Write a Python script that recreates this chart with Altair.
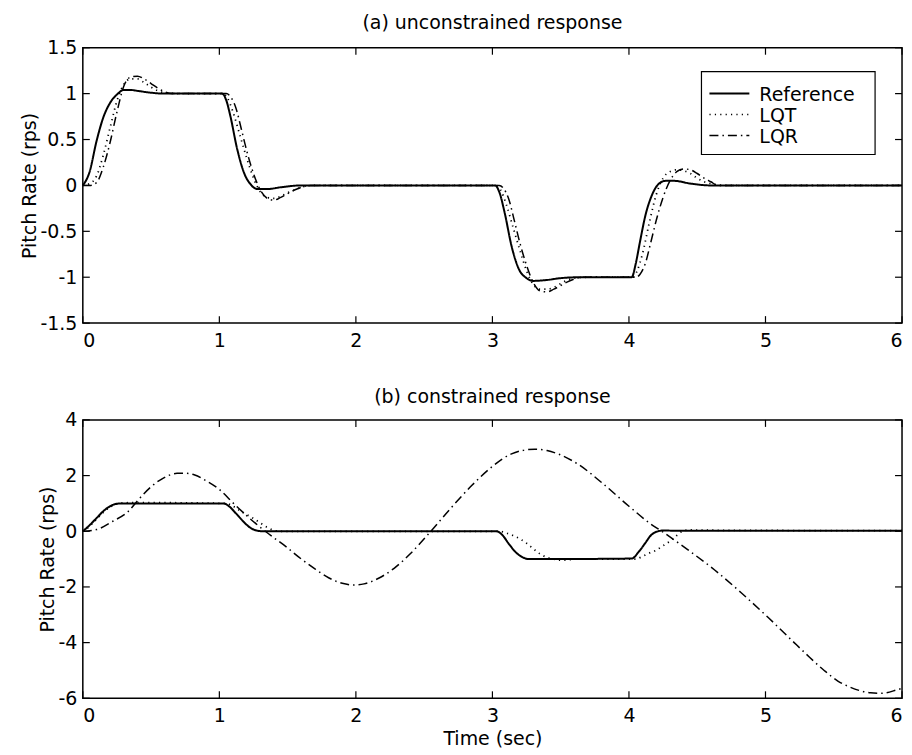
import altair as alt
import pandas as pd

# ---- (a) unconstrained response ----
t_ref_a = [0, 0.05, 0.1, 0.15, 0.2, 0.25, 0.3, 0.35, 0.4, 0.5, 0.6,
           1.02, 1.05, 1.08, 1.13, 1.18, 1.23, 1.28, 1.35, 1.45, 1.6,
           3.02, 3.05, 3.09, 3.14, 3.19, 3.25, 3.3, 3.4, 3.5, 3.65,
           4.02, 4.05, 4.08, 4.12, 4.17, 4.22, 4.27, 4.33, 4.45, 4.6, 6.0]
q_ref_a = [0, 0.15, 0.48, 0.74, 0.9, 0.99, 1.04, 1.04, 1.03, 1.01, 1.0,
           1.0, 0.93, 0.76, 0.4, 0.14, 0.01, -0.04, -0.04, -0.02, 0.0,
           0.0, -0.07, -0.3, -0.66, -0.9, -1.01, -1.04, -1.03, -1.01, -1.0,
           -1.0, -0.85, -0.62, -0.33, -0.1, 0.02, 0.05, 0.05, 0.02, 0.0, 0.0]

t_lqt_a = [0, 0.05, 0.1, 0.15, 0.2, 0.25, 0.3, 0.35, 0.4, 0.45, 0.5, 0.55, 0.6, 0.7,
           1.03, 1.06, 1.1, 1.15, 1.2, 1.25, 1.3, 1.35, 1.4, 1.45, 1.5, 1.55, 1.6, 1.7,
           3.03, 3.06, 3.1, 3.15, 3.2, 3.25, 3.3, 3.35, 3.4, 3.45, 3.5, 3.55, 3.6, 3.7,
           4.03, 4.06, 4.1, 4.15, 4.2, 4.25, 4.3, 4.35, 4.4, 4.45, 4.5, 4.55, 4.6, 4.7, 6.0]
q_lqt_a = [0, 0.02, 0.1, 0.33, 0.63, 0.92, 1.1, 1.16, 1.16, 1.12, 1.07, 1.03, 1.01, 1.0,
           1.0, 0.95, 0.8, 0.55, 0.3, 0.08, -0.07, -0.13, -0.14, -0.12, -0.08, -0.05, -0.02, 0.0,
           0.0, -0.05, -0.2, -0.45, -0.7, -0.93, -1.08, -1.13, -1.13, -1.11, -1.07, -1.03, -1.01, -1.0,
           -1.0, -0.93, -0.74, -0.4, -0.1, 0.08, 0.15, 0.17, 0.16, 0.13, 0.08, 0.04, 0.02, 0.0, 0.0]

t_lqr_a = [0, 0.05, 0.1, 0.15, 0.2, 0.25, 0.3, 0.35, 0.4, 0.45, 0.5, 0.55, 0.6, 0.65,
           1.05, 1.08, 1.12, 1.16, 1.2, 1.25, 1.3, 1.35, 1.4, 1.45, 1.5, 1.55, 1.6, 1.65,
           3.05, 3.08, 3.12, 3.16, 3.2, 3.25, 3.3, 3.35, 3.4, 3.45, 3.5, 3.55, 3.6, 3.65,
           4.05, 4.08, 4.12, 4.16, 4.2, 4.25, 4.3, 4.35, 4.4, 4.45, 4.5, 4.55, 4.6, 4.65, 6.0]
q_lqr_a = [0, 0.0, 0.03, 0.2, 0.47, 0.8, 1.08, 1.18, 1.19, 1.16, 1.11, 1.06, 1.02, 1.0,
           1.0, 0.97, 0.85, 0.62, 0.38, 0.13, -0.05, -0.14, -0.16, -0.13, -0.09, -0.05, -0.02, 0.0,
           0.0, -0.03, -0.15, -0.38, -0.62, -0.87, -1.06, -1.15, -1.16, -1.13, -1.09, -1.05, -1.02, -1.0,
           -1.0, -0.97, -0.85, -0.62, -0.38, -0.13, 0.05, 0.15, 0.18, 0.17, 0.13, 0.08, 0.04, 0.0, 0.0]

# ---- (b) constrained response ----
t_ref_b = [0, 0.05, 0.1, 0.15, 0.2, 0.25, 0.3,
           1.03, 1.07, 1.12, 1.17, 1.22, 1.27, 1.32,
           3.03, 3.07, 3.12, 3.17, 3.22, 3.27, 3.32,
           4.02, 4.07, 4.12, 4.16, 4.2, 4.26, 4.32, 6.0]
q_ref_b = [0, 0.22, 0.47, 0.72, 0.9, 0.99, 1.0,
           1.0, 0.9, 0.65, 0.38, 0.15, 0.03, 0.0,
           0.0, -0.12, -0.45, -0.75, -0.93, -1.0, -1.0,
           -0.98, -0.75, -0.42, -0.15, -0.02, 0.03, 0.02, 0.02]

t_lqt_b = [0, 0.05, 0.1, 0.15, 0.2, 0.25, 0.3, 0.4,
           1.05, 1.1, 1.15, 1.2, 1.25, 1.3, 1.35, 1.4, 1.45,
           3.05, 3.1, 3.15, 3.2, 3.25, 3.3, 3.35, 3.4, 3.45, 3.5, 3.55, 3.6,
           4.05, 4.1, 4.15, 4.2, 4.25, 4.3, 4.35, 4.4, 4.45, 4.5, 6.0]
q_lqt_b = [0, 0.18, 0.43, 0.68, 0.87, 0.98, 1.02, 1.03,
           1.0, 0.9, 0.74, 0.6, 0.46, 0.3, 0.14, 0.03, 0.0,
           0.0, -0.06, -0.15, -0.27, -0.43, -0.63, -0.82, -0.94, -1.0, -1.04, -1.03, -1.0,
           -1.0, -0.9, -0.78, -0.68, -0.52, -0.36, -0.15, 0.02, 0.05, 0.04, 0.02]

t_lqr_b = [0, 0.1, 0.22, 0.33, 0.41, 0.5, 0.59, 0.69, 0.76, 0.82,
           0.9, 1.0, 1.1, 1.2, 1.29, 1.39, 1.49, 1.58, 1.7, 1.8,
           1.9, 1.98, 2.06, 2.17, 2.28, 2.4, 2.54, 2.69, 2.85, 3.0,
           3.14, 3.31, 3.4, 3.48, 3.63, 3.8, 4.0, 4.16, 4.24, 4.43,
           4.63, 4.82, 5.02, 5.21, 5.3, 5.43, 5.53, 5.62, 5.77, 5.85, 5.96, 6.0]
q_lqr_b = [0, 0.06, 0.36, 0.7, 1.15, 1.6, 1.91, 2.08, 2.08, 2.02,
           1.82, 1.5, 1.02, 0.56, 0.18, -0.2, -0.56, -0.92, -1.35, -1.67,
           -1.87, -1.93, -1.89, -1.68, -1.33, -0.8, -0.05, 0.8, 1.65, 2.33,
           2.78, 2.95, 2.9, 2.78, 2.4, 1.75, 0.9, 0.26, 0.0, -0.66,
           -1.4, -2.2, -3.1, -4.0, -4.42, -5.0, -5.38, -5.6, -5.8, -5.82, -5.7, -5.64]

x_ticks = [0, 1, 2, 3, 4, 5, 6]
y_ticks_a = [-1.5, -1, -0.5, 0, 0.5, 1, 1.5]
y_ticks_b = [-6, -4, -2, 0, 2, 4]

SERIES = ["Reference", "LQT", "LQR"]
DASHES = [[1, 0], [1.2, 4.2], [9, 4, 1.5, 4]]
WIDTHS = [2.0, 1.5, 1.5]
FONT = "DejaVu Sans"
FS = 19
TICK = 7
W = 821


def series_frame(parts):
    frames = []
    for name, t, q in parts:
        frames.append(pd.DataFrame({"t": t, "q": q, "series": name}))
    return pd.concat(frames, ignore_index=True)


def legend_layers():
    """Boxed legend in the upper right of the panel (pixel offsets within the plot)."""
    box = alt.Chart(pd.DataFrame({"series": ["box"]})).mark_rect(
        fill="white", stroke="black", strokeWidth=1.2
    ).encode(x=alt.value(620), x2=alt.value(794), y=alt.value(24), y2=alt.value(107))
    layers = [box]
    row_y = [46, 67, 88]
    for name, dash, width, yy in zip(SERIES, DASHES, WIDTHS, row_y):
        entry = alt.Chart(pd.DataFrame({"series": [name]}))
        layers.append(entry.mark_rule(color="black", strokeDash=dash, strokeWidth=width).encode(
            x=alt.value(628), x2=alt.value(668), y=alt.value(yy)))
        layers.append(entry.mark_text(
            align="left", baseline="middle", font=FONT, fontSize=FS, color="black"
        ).encode(x=alt.value(678), y=alt.value(yy + 1), text="series:N"))
    return layers


def panel(df, title, y_dom, y_ticks, x_title, show_legend, height, title_offset):
    xs = alt.Scale(domain=[0, 6], nice=False, zero=False)
    ys = alt.Scale(domain=y_dom, nice=False, zero=False)
    x_axis = alt.Axis(values=x_ticks, title=x_title, ticks=False, domain=False,
                      grid=False, labelPadding=8, labelExpr="'' + datum.value")
    y_axis = alt.Axis(values=y_ticks, title="Pitch Rate (rps)", ticks=False,
                      domain=False, grid=False, labelPadding=6, titlePadding=0,
                      labelExpr="'' + datum.value")
    x_enc = alt.X("t:Q", scale=xs, axis=x_axis)
    y_enc = alt.Y("q:Q", scale=ys, axis=y_axis)

    lines = alt.Chart(df).mark_line(color="black", interpolate="monotone").encode(
        x=x_enc,
        y=y_enc,
        strokeDash=alt.StrokeDash("series:N", scale=alt.Scale(domain=SERIES, range=DASHES),
                                  legend=None),
        strokeWidth=alt.StrokeWidth("series:N", scale=alt.Scale(domain=SERIES, range=WIDTHS),
                                    legend=None),
        detail="series:N",
    )

    # inward tick marks on all four sides of the box
    xt = alt.Chart(pd.DataFrame({"t": x_ticks}))
    yt = alt.Chart(pd.DataFrame({"q": y_ticks}))
    tick = dict(color="black", strokeWidth=1.2)
    ticks_bottom = xt.mark_rule(**tick).encode(
        x=x_enc, y=alt.value(height), y2=alt.value(height - TICK))
    ticks_top = xt.mark_rule(**tick).encode(
        x=x_enc, y=alt.value(0), y2=alt.value(TICK))
    ticks_left = yt.mark_rule(**tick).encode(
        y=y_enc, x=alt.value(0), x2=alt.value(TICK))
    ticks_right = yt.mark_rule(**tick).encode(
        y=y_enc, x=alt.value(W), x2=alt.value(W - TICK))

    layers = [lines, ticks_bottom, ticks_top, ticks_left, ticks_right]
    if show_legend:
        layers += legend_layers()

    return alt.layer(*layers).properties(
        width=W, height=height,
        title=alt.TitleParams(title, font=FONT, fontSize=FS, fontWeight="normal",
                              color="black", anchor="middle", frame="group",
                              offset=title_offset),
    )


df_a = series_frame([("Reference", t_ref_a, q_ref_a), ("LQT", t_lqt_a, q_lqt_a),
                     ("LQR", t_lqr_a, q_lqr_a)])
df_b = series_frame([("Reference", t_ref_b, q_ref_b), ("LQT", t_lqt_b, q_lqt_b),
                     ("LQR", t_lqr_b, q_lqr_b)])

top = panel(df_a, "(a) unconstrained response", [-1.5, 1.5], y_ticks_a, None, True, 276, 6)
bottom = panel(df_b, "(b) constrained response", [-6, 4], y_ticks_b, "Time (sec)", False, 279, 4)

chart = alt.vconcat(top, bottom, spacing=36).properties(
    padding={"left": 20, "top": 12, "right": 5, "bottom": 5},
    background="white",
).configure_view(
    stroke="black", strokeWidth=1.5
).configure_axis(
    labelFont=FONT, labelFontSize=FS, labelColor="black",
    titleFont=FONT, titleFontSize=FS, titleColor="black", titleFontWeight="normal",
)

chart.save("out.html", embed_options={"renderer": "svg", "actions": False})
